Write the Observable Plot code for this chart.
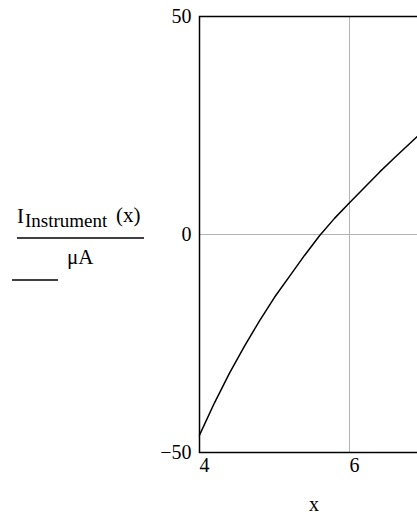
<!DOCTYPE html>
<html>
<head>
<meta charset="utf-8">
<script src="https://cdn.jsdelivr.net/npm/d3@7"></script>
<script src="https://cdn.jsdelivr.net/npm/@observablehq/plot@0.6"></script>
<style>
  html, body { margin: 0; padding: 0; background: #fff; overflow: hidden; }
  #chart { width: 417px; height: 516px; overflow: hidden; position: relative; }
  #chart svg { max-width: none !important; display: block; }
</style>
</head>
<body>
<div id="chart"></div>
<script>
// Sampled instrument current I_Instrument(x), in µA
const xValues = [4.0, 4.2, 4.4, 4.6, 4.8, 5.0, 5.2, 5.4, 5.6, 5.8, 6.0, 6.2, 6.4, 6.6, 6.8, 7.0];
const currentValues = [-46, -38.6, -31.8, -25.6, -19.8, -14.4, -9.6, -4.8, -0.3, 3.7, 7.3, 10.8, 14.3, 17.6, 20.8, 24.0];
const xTicks = [4, 6];
const yTicks = [-50, 0, 50];

const data = xValues.map((x, i) => ({x, y: currentValues[i]}));
const serif = '"Liberation Serif", "Times New Roman", serif';

// The plot spans x = 4…8; the window shows its left part only.
const svg = Plot.plot({
  width: 500,
  height: 516,
  marginLeft: 199,
  marginRight: 1,
  marginTop: 16,
  marginBottom: 64,
  style: {fontFamily: serif, fontSize: "20px", background: "#fff", color: "#000", maxWidth: "none"},
  x: {domain: [4, 8]},
  y: {domain: [-50, 50]},
  marks: [
    Plot.gridX([6], {stroke: "#b4b4b4", strokeOpacity: 1, strokeWidth: 1}),
    Plot.gridY([0], {stroke: "#b4b4b4", strokeOpacity: 1, strokeWidth: 1}),
    Plot.frame({stroke: "#000", strokeWidth: 1.5}),
    Plot.line(data, {x: "x", y: "y", stroke: "#000", strokeWidth: 1.5}),
    Plot.axisX(xTicks, {tickSize: 0, tickPadding: 5, textAnchor: "start", fontSize: 20, label: null}),
    Plot.axisY(yTicks, {tickSize: 0, tickPadding: 8, fontSize: 20, label: null})
  ]
});
svg.setAttribute("width", 500);
svg.setAttribute("height", 516);

const root = d3.select(svg);

// x-axis name
root.append("text")
  .attr("x", 314).attr("y", 511)
  .attr("text-anchor", "middle")
  .attr("font-family", serif).attr("font-size", 20)
  .text("x");

// y-axis name as a fraction: I_Instrument(x) / µA
const num = root.append("text")
  .attr("text-anchor", "start")
  .attr("font-family", serif).attr("font-size", 21);
num.append("tspan").attr("x", 17).attr("y", 223).text("I");
num.append("tspan").attr("x", 25).attr("y", 227).attr("font-size", 19).text("Instrument");
num.append("tspan").attr("x", 116).attr("y", 222).text("(x)");

root.append("line")
  .attr("x1", 17).attr("x2", 144).attr("y1", 238).attr("y2", 238)
  .attr("stroke", "#000").attr("stroke-width", 1.3);

root.append("text")
  .attr("x", 67).attr("y", 264)
  .attr("text-anchor", "start")
  .attr("font-family", serif).attr("font-size", 21)
  .text("\u03BCA");

root.append("line")
  .attr("x1", 12).attr("x2", 58).attr("y1", 280).attr("y2", 280)
  .attr("stroke", "#000").attr("stroke-width", 1.3);

document.getElementById("chart").append(svg);
</script>
</body>
</html>
